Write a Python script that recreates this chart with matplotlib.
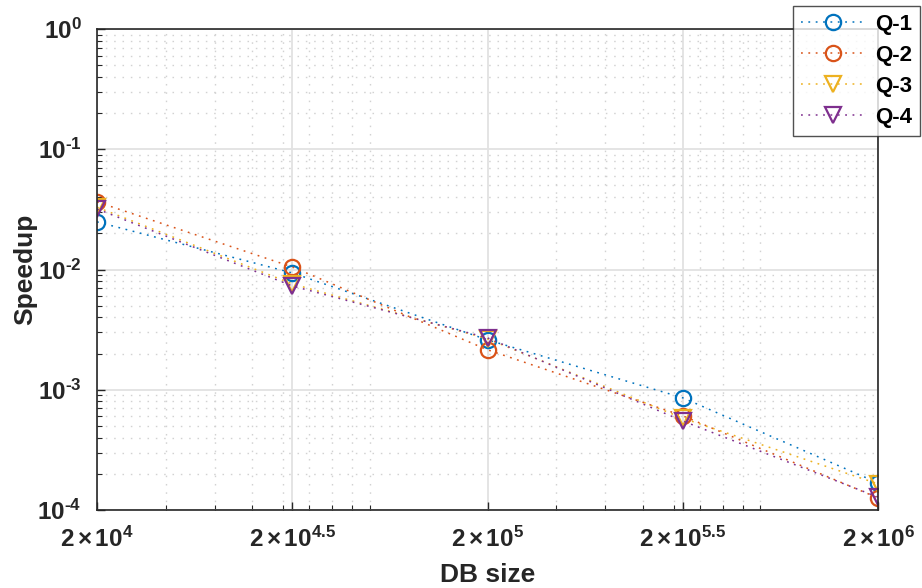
import numpy as np
import matplotlib
matplotlib.use("Agg")
import matplotlib.pyplot as plt
from matplotlib.ticker import LogLocator, FixedLocator, NullFormatter

plt.rcParams['font.family'] = ['Liberation Sans', 'DejaVu Sans']
plt.rcParams['font.weight'] = 'bold'
plt.rcParams['mathtext.fontset'] = 'custom'
plt.rcParams['mathtext.rm'] = 'Liberation Sans:bold'
plt.rcParams['mathtext.bf'] = 'Liberation Sans:bold'
plt.rcParams['mathtext.it'] = 'Liberation Sans:bold'
plt.rcParams['mathtext.default'] = 'regular'
plt.rcParams['axes.unicode_minus'] = False
plt.rcParams['lines.scale_dashes'] = False

# Data
db_exp = [4, 4.5, 5, 5.5, 6]
db_size = [2 * 10 ** e for e in db_exp]
q1 = [0.0249, 0.00937, 0.0026, 8.57e-4, 1.68e-4]
q2 = [0.0365, 0.0105, 0.00215, 6.07e-4, 1.26e-4]
q3 = [0.0330, 0.0076, 0.00265, 5.8e-4, 1.65e-4]
q4 = [0.0319, 0.0073, 0.0027, 5.5e-4, 1.28e-4]
xtick_labels = [r'$2\,{\times}\,10^{4}$', r'$2\,{\times}\,10^{4.5}$', r'$2\,{\times}\,10^{5}$',
                r'$2\,{\times}\,10^{5.5}$', r'$2\,{\times}\,10^{6}$']
ytick_vals = [1e-4, 1e-3, 1e-2, 1e-1, 1e0]
ytick_labels = [r'$10^{\text{-}4}$', r'$10^{\text{-}3}$', r'$10^{\text{-}2}$',
                r'$10^{\text{-}1}$', r'$10^{0}$']
series = [('Q-1', q1, 'o', '#0072BD'), ('Q-2', q2, 'o', '#D95319'),
          ('Q-3', q3, 'v', '#EDB120'), ('Q-4', q4, 'v', '#7E2F8E')]

fig = plt.figure(figsize=(9.22, 5.88), dpi=100)
ax = fig.add_axes([97/922, 1 - 510/588, (878-97)/922, (510-29)/588])

for name, vals, mk, col in series:
    ax.plot(db_size, vals, linestyle=(0, (1.3, 4.0)), linewidth=1.1, marker=mk,
            markersize=11, markerfacecolor='none', markeredgecolor=col,
            markeredgewidth=1.6, color=col, label=name)

ax.set_xscale('log')
ax.set_yscale('log')
ax.set_xlim(db_size[0], db_size[-1])
ax.set_ylim(1e-4, 1e0)

ax.xaxis.set_major_locator(FixedLocator(db_size))
ax.set_xticklabels(xtick_labels)
ax.xaxis.set_minor_locator(LogLocator(base=10, subs=np.arange(1, 10), numticks=50))
ax.xaxis.set_minor_formatter(NullFormatter())
ax.yaxis.set_major_locator(FixedLocator(ytick_vals))
ax.set_yticklabels(ytick_labels)
ax.yaxis.set_minor_locator(LogLocator(base=10, subs=np.arange(2, 10), numticks=50))
ax.yaxis.set_minor_formatter(NullFormatter())

ax.grid(True, which='major', color='#e2e2e2', linewidth=1.3, linestyle='-')
ax.grid(True, which='minor', color='#d2d2d2', linewidth=1.0, linestyle=(0, (1.1, 4.9)))
ax.set_axisbelow(True)

ax.tick_params(which='both', direction='in', top=False, right=False, colors='#262626',
               labelsize=17.5)
ax.tick_params(axis='x', pad=12)
ax.tick_params(axis='y', pad=11)
ax.tick_params(which='major', length=6, width=1.0)
ax.tick_params(which='minor', length=3.5, width=0.8)
for s in ax.spines.values():
    s.set_color('#262626')
    s.set_linewidth(1.2)

ax.set_xlabel('DB size', fontsize=19, fontweight='bold', color='#262626', va='center')
ax.xaxis.set_label_coords(0.5, (510 - 575) / 481)
ax.set_ylabel('Speedup', fontsize=19, fontweight='bold', color='#262626', va='center')
ax.yaxis.set_label_coords((25 - 97) / 781, 0.5)

leg = fig.legend(loc='upper right', bbox_to_anchor=(920/922, 1 - 6/588), fontsize=16,
                 frameon=True, fancybox=False, edgecolor='#262626', handlelength=2.9,
                 borderpad=0.35, labelspacing=0.45, handletextpad=0.45, borderaxespad=0)
leg.get_frame().set_linewidth(1.0)
for t in leg.get_texts():
    t.set_fontweight('bold')

fig.savefig('out.png', dpi=100)
